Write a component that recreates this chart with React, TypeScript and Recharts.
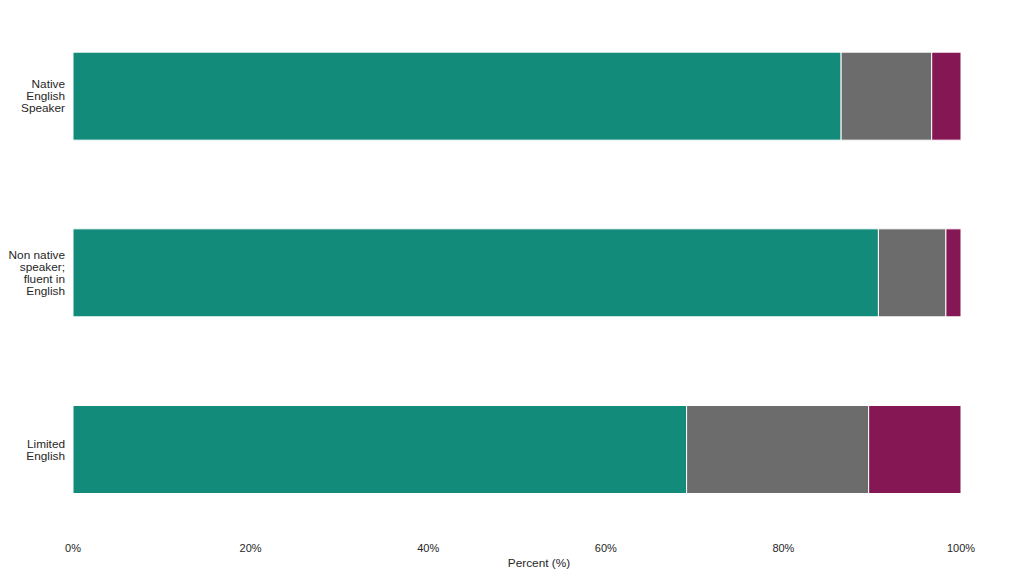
import { BarChart, Bar, XAxis, YAxis } from "recharts";

const CATEGORIES = ["Native English Speaker", "Non native speaker; fluent in English", "Limited English"];
const CATEGORY_LINES = [
  ["Native", "English", "Speaker"],
  ["Non native", "speaker;", "fluent in", "English"],
  ["Limited", "English"],
];
const SERIES_A = [86.5, 90.7, 69.1];
const SERIES_B = [10.2, 7.6, 20.5];
const SERIES_C = [3.3, 1.7, 10.4];
const X_TICKS = [0, 20, 40, 60, 80, 100];

const COLORS = ["#128b7a", "#6c6c6c", "#851755"];
const FONT = "'Liberation Sans', Arial, sans-serif";

const data = CATEGORIES.map((name, i) => ({
  name,
  a: SERIES_A[i],
  b: SERIES_B[i],
  c: SERIES_C[i],
}));

const CategoryTick = ({ x, y, payload }: any) => {
  const lines = CATEGORY_LINES[CATEGORIES.indexOf(payload.value)] || [payload.value];
  const lh = 12;
  const start = y - ((lines.length - 1) * lh) / 2;
  return (
    <text x={x} y={start} textAnchor="end" fill="#262626" fontSize={11.8} fontFamily={FONT} dominantBaseline="central">
      {lines.map((l: string, i: number) => (
        <tspan key={i} x={x} y={start + i * lh}>
          {l}
        </tspan>
      ))}
    </text>
  );
};

const App = () => {
  return (
    <div style={{ position: "absolute", left: 0, top: 0, background: "#fff" }}>
      <BarChart
        width={1013}
        height={576}
        data={data}
        layout="vertical"
        margin={{ top: 8, right: 52, bottom: 0, left: 0 }}
        barCategoryGap="25%"
      >
        <XAxis
          type="number"
          domain={[0, 100]}
          ticks={X_TICKS}
          tickFormatter={(v) => `${v}%`}
          tickLine={false}
          axisLine={false}
          height={38}
          tickMargin={0}
          tick={{ fill: "#262626", fontSize: 11, fontFamily: FONT }}
          label={{ value: "Percent (%)", position: "insideBottom", offset: 9, dx: 22, fill: "#262626", fontSize: 11.8, fontFamily: FONT }}
        />
        <YAxis
          type="category"
          dataKey="name"
          width={73}
          tickLine={false}
          axisLine={false}
          tick={<CategoryTick />}
          tickMargin={2}
        />
        <Bar dataKey="a" stackId="s" fill={COLORS[0]} stroke="#fff" strokeWidth={1} isAnimationActive={false} />
        <Bar dataKey="b" stackId="s" fill={COLORS[1]} stroke="#fff" strokeWidth={1} isAnimationActive={false} />
        <Bar dataKey="c" stackId="s" fill={COLORS[2]} stroke="#fff" strokeWidth={1} isAnimationActive={false} />
      </BarChart>
    </div>
  );
};

export default App;
